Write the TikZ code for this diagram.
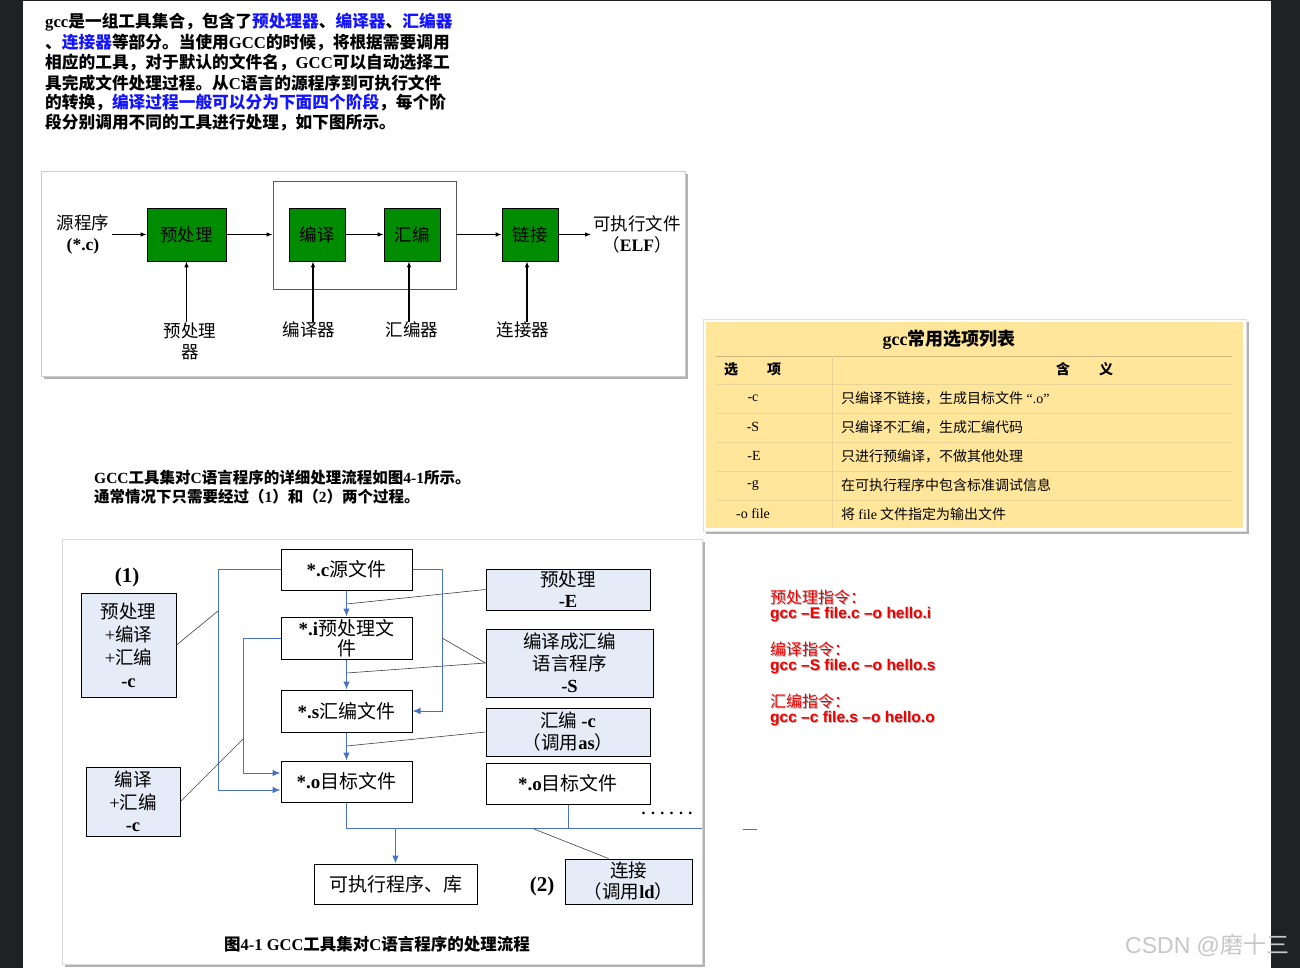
\documentclass[tikz,border=0pt]{standalone}
\usepackage{fontspec}
\setmainfont{Noto Sans CJK SC}
\newfontfamily\en{Liberation Serif}
\newfontfamily\ar{Liberation Sans}
\usetikzlibrary{arrows.meta}
\definecolor{pagebg}{RGB}{32,33,36}
\definecolor{boxgreen}{RGB}{0,140,0}
\definecolor{tabfill}{RGB}{255,230,155}
\definecolor{tabline}{RGB}{205,185,125}
\definecolor{tablinelt}{RGB}{232,212,150}
\definecolor{lblue}{RGB}{229,235,247}
\definecolor{lineblue}{RGB}{71,114,196}
\definecolor{txtblue}{RGB}{20,20,255}
\definecolor{cmdred}{RGB}{240,0,0}
\newcommand\fsz[2]{\fontsize{#1}{#2}\selectfont}
\newcommand\bl[1]{\textcolor{txtblue}{#1}}
\newcommand\eb[1]{{\en\bfseries #1}}
\begin{document}
\begin{tikzpicture}[x=1pt,y=-1pt,
  arr/.style={-{Latex[length=6pt,width=4.5pt]}, line width=1.1pt},
  gbox/.style={draw=black, line width=0.6pt, fill=boxgreen, minimum width=56pt, minimum height=53pt, inner sep=0pt, font=\fsz{17.5}{21}},
  lbl/.style={font=\fsz{17.5}{21}, align=center, inner sep=0pt},
  wbox/.style={draw=black, line width=1pt, fill=white, minimum width=131pt, minimum height=41pt, inner sep=0pt, align=center, font=\fsz{19}{21}},
  bbox/.style={draw=black, line width=1pt, fill=lblue, inner sep=0pt, align=center, font=\fsz{18.5}{22}},
  blu/.style={draw=lineblue, line width=1pt},
  barr/.style={blu, -{Latex[length=8pt,width=6.5pt]}},
  call/.style={draw=black!75, line width=0.6pt},
  para/.style={anchor=west, inner sep=0pt, font=\fsz{16.7}{20}\bfseries},
  mid/.style={anchor=west, inner sep=0pt, font=\fsz{15.5}{19}\bfseries},
  tcell/.style={inner sep=0pt, font=\fsz{14}{17}},
  tmean/.style={tcell, anchor=west},
  redt/.style={anchor=west, inner sep=0pt, text=cmdred, font=\fsz{16}{19}},
  redc/.style={anchor=west, inner sep=0pt, text=cmdred, font=\ar\bfseries\fsz{15.5}{19}},
  shad/.style={text=black!30}
]
\useasboundingbox (0,0) rectangle (1300,968);
% page
\fill[pagebg] (0,0) rectangle (1300,968);
\fill[white] (23,1) rectangle (1271,968);

% ---------- top paragraph ----------
\node[para] (p1) at (45,22) {\eb{gcc}是一组工具集合，包含了\bl{预处理器}、\bl{编译器}、\bl{汇编器}};
\node[para] (p2) at (45,43) {、\bl{连接器}等部分。当使用\eb{GCC}的时候，将根据需要调用};
\node[para] (p3) at (45,63) {相应的工具，对于默认的文件名，\eb{GCC}可以自动选择工};
\node[para] (p4) at (45,83) {具完成文件处理过程。从\eb{C}语言的源程序到可执行文件};
\node[para] (p5) at (45,103) {的转换，\bl{编译过程一般可以分为下面四个阶段}，每个阶};
\node[para] (p6) at (45,123) {段分别调用不同的工具进行处理，如下图所示。};

% ---------- top diagram ----------
\fill[black!30] (44,174) rectangle (688,379);
\draw[black!20, fill=white] (41,171) rectangle (685,376);
\node[draw=black!65, line width=0.8pt, minimum width=183pt, minimum height=108pt, inner sep=0pt] (frame) at (364.5,235) {};
\node[gbox, minimum width=79pt] (pp) at (186.5,234.5) {预处理};
\node[gbox] (cc) at (317,234.5) {编译};
\node[gbox] (as) at (412,234.5) {汇编};
\node[gbox] (lk) at (530,234.5) {链接};
\node[lbl] (src) at (83,234) {源程序\\\eb{(*.c)}};
\node[lbl] (exe) at (637,234) {可执行文件\\（\eb{ELF}）};
\node[lbl] (lpp) at (190,341) {预处理\\器};
\node[lbl] (lcc) at (309,330) {编译器};
\node[lbl] (las) at (412,330) {汇编器};
\node[lbl] (llk) at (523,330) {连接器};
\draw[arr] ([xshift=3pt]src.east |- pp.west) -- (pp.west);
\draw[arr] (pp.east) -- (frame.west |- pp.west);
\draw[arr] (cc.east) -- (as.west);
\draw[arr] (frame.east |- lk.west) -- (lk.west);
\draw[arr] (lk.east) -- ([xshift=-2pt]exe.west |- lk.east);
\draw[arr] (pp.south |- lpp.north) -- (pp.south);
\draw[arr] ([xshift=-4pt]cc.south |- lcc.north) -- ([xshift=-4pt]cc.south);
\draw[arr] ([xshift=-3pt]as.south |- las.north) -- ([xshift=-3pt]as.south);
\draw[arr] ([xshift=-3pt]lk.south |- llk.north) -- ([xshift=-3pt]lk.south);

% ---------- table ----------
\fill[black!30] (706,322) rectangle (1249,534);
\draw[black!12, fill=white] (703,319) rectangle (1246,531);
\fill[tabfill] (706,322) rectangle (1243,528);
\node[inner sep=0pt, font=\fsz{18}{21}\bfseries] (ttl) at (949,340) {\eb{gcc}常用选项列表};
\draw[tabline, line width=0.8pt] (716,356) -- (1232,356);
\foreach \yy in {384,413,442,471,500} \draw[tablinelt, line width=0.8pt] (716,\yy) -- (1232,\yy);
\draw[tablinelt, line width=0.8pt] (832,356) -- (832,527);
\node[tcell, font=\fsz{14}{17}\bfseries] (h1) at (731,369) {选};
\node[tcell, font=\fsz{14}{17}\bfseries] (h2) at (774,369) {项};
\node[tcell, font=\fsz{14}{17}\bfseries] (h3) at (1063,369) {含};
\node[tcell, font=\fsz{14}{17}\bfseries] (h4) at (1106,369) {义};
\node[tcell, font=\en\fsz{14}{17}] (o1) at (753,398) {-c};
\node[tcell, font=\en\fsz{14}{17}] (o2) at (753,427) {-S};
\node[tcell, font=\en\fsz{14}{17}] (o3) at (754,456) {-E};
\node[tcell, font=\en\fsz{14}{17}] (o4) at (753,485) {-g};
\node[tcell, font=\en\fsz{14}{17}] (o5) at (753,514) {-o file};
\node[tmean] (m1) at (841,398) {只编译不链接，生成目标文件{\en\ “.o”}};
\node[tmean] (m2) at (841,427) {只编译不汇编，生成汇编代码};
\node[tmean] (m3) at (841,456) {只进行预编译，不做其他处理};
\node[tmean] (m4) at (841,485) {在可执行程序中包含标准调试信息};
\node[tmean] (m5) at (841,514) {将 {\en file} 文件指定为输出文件};

% ---------- middle text ----------
\node[mid] (t1) at (94,478) {\eb{GCC}工具集对\eb{C}语言程序的详细处理流程如图\eb{4-1}所示。};
\node[mid] (t2) at (94,497) {通常情况下只需要经过（\eb{1}）和（\eb{2}）两个过程。};

% ---------- lower diagram ----------
\fill[black!30] (65,542) rectangle (705,967);
\draw[black!15, fill=white] (62,539) rectangle (702,964);
\node[wbox] (c) at (346.5,569.5) {\eb{*.c}源文件};
\node[wbox, minimum height=42pt, font=\fsz{19}{20}] (i) at (346.5,638) {\eb{*.i}预处理文\\件};
\node[wbox, minimum height=42pt] (s) at (346.5,711) {\eb{*.s}汇编文件};
\node[wbox] (o) at (346.5,781.5) {\eb{*.o}目标文件};
\node[inner sep=0pt, font=\en\bfseries\fsz{21}{24}] (n1) at (127,577) {(1)};
\node[bbox, minimum width=95pt, minimum height=104pt, font=\fsz{18.5}{23}] (B1) at (128.5,645) {预处理\\{\en +}编译\\{\en +}汇编\\\eb{-c}};
\node[bbox, minimum width=94pt, minimum height=69pt, font=\fsz{18.5}{22.5}] (B2) at (133,801.5) {编译\\{\en +}汇编\\\eb{-c}};
\node[bbox, minimum width=164pt, minimum height=41pt, font=\fsz{18.5}{21}] (E) at (568,589.5) {预处理\\\eb{-E}};
\node[bbox, minimum width=167pt, minimum height=68pt] (S) at (569.5,663) {编译成汇编\\语言程序\\\eb{-S}};
\node[bbox, minimum width=164pt, minimum height=48pt] (A) at (568,732) {汇编 \eb{-c}\\（调用\eb{as}）};
\node[wbox, minimum width=164pt] (o2) at (568,783.5) {\eb{*.o}目标文件};
\node[bbox, minimum width=127pt, minimum height=45pt, font=\fsz{18.5}{21}] (L) at (628.5,881.5) {连接\\（调用\eb{ld}）};
\node[wbox, minimum width=163pt, minimum height=40pt] (x) at (395.5,884) {可执行程序、库};
\node[inner sep=0pt, font=\en\bfseries\fsz{21}{24}] (n2) at (542,886) {(2)};
\node[inner sep=0pt, font=\en\bfseries\fsz{16}{18}] (dots) at (667,813) {. . . . . .};
\node[inner sep=0pt, font=\fsz{16.5}{20}\bfseries] (cap) at (377,944) {图\eb{4-1 GCC}工具集对\eb{C}语言程序的处理流程};

\coordinate (L1) at (218,0);
\coordinate (L2) at (243,0);
\coordinate (R1) at (442,0);
\coordinate (Hr) at (702,828);
\coordinate (dA) at (743,829);
\coordinate (dB) at (757,829);
\draw[barr] (c.south) -- (i.north);
\draw[barr] (i.south) -- (s.north);
\draw[barr] (s.south) -- (o.north);
\draw[barr] (c.west) -- (c.west -| L1) |- ([yshift=-8.5pt]o.west);
\draw[barr] (i.west) -- (i.west -| L2) |- ([yshift=8.5pt]o.west);
\draw[barr] (c.east) -- (c.east -| R1) |- (s.east);
\draw[blu] (o.south) |- (Hr);
\draw[blu] (o2.south) -- (o2.south |- Hr);
\draw[barr] (x.north |- Hr) -- (x.north);
\draw[blu] (dA) -- (dB);

\coordinate (pE) at (346.5,604);
\coordinate (pS1) at (346.5,673);
\coordinate (pS2) at (442,638);
\coordinate (pA) at (346.5,746);
\coordinate (p1) at (218,611);
\coordinate (p2) at (243,739);
\coordinate (pL) at (534,829);
\draw[call] (E.west) -- (pE);
\draw[call] (pS2) -- (S.west) -- (pS1);
\draw[call] (A.west) -- (pA);
\draw[call] (B1.east) -- (p1);
\draw[call] (B2.east) -- (p2);
\draw[call] (pL) -- ([xshift=-20pt]L.north);

% ---------- red commands ----------
\node[redt, shad] (r1s) at (771,598) {预处理指令：};
\node[redt] (r1) at (770,597) {预处理指令：};
\node[redc, shad] (c1s) at (771,616) {gcc –E file.c –o hello.i};
\node[redc] (c1) at (770,615) {gcc –E file.c –o hello.i};
\node[redt, shad] (r2s) at (771,650) {编译指令：};
\node[redt] (r2) at (770,649) {编译指令：};
\node[redc, shad] (c2s) at (771,668) {gcc –S file.c –o hello.s};
\node[redc] (c2) at (770,667) {gcc –S file.c –o hello.s};
\node[redt, shad] (r3s) at (771,702) {汇编指令：};
\node[redt] (r3) at (770,701) {汇编指令：};
\node[redc, shad] (c3s) at (771,720) {gcc –c file.s –o hello.o};
\node[redc] (c3) at (770,719) {gcc –c file.s –o hello.o};

% ---------- watermark ----------
\node[anchor=west, inner sep=0pt, text=black!22, font=\fsz{23}{26}] (wm) at (1125,945) {{\ar CSDN @}磨十三};
\end{tikzpicture}
\end{document}
